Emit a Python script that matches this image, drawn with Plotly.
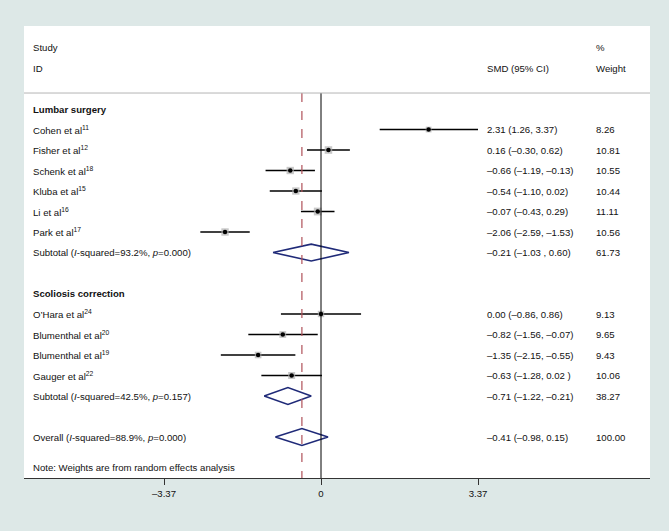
import plotly.graph_objects as go

# Forest plot: SMD by study, grouped by surgery type
studies = ["Cohen et al<sup>11</sup>", "Fisher et al<sup>12</sup>", "Schenk et al<sup>18</sup>",
           "Kluba et al<sup>15</sup>", "Li et al<sup>16</sup>", "Park et al<sup>17</sup>",
           "O’Hara et al<sup>24</sup>", "Blumenthal et al<sup>20</sup>",
           "Blumenthal et al<sup>19</sup>", "Gauger et al<sup>22</sup>"]
study_rows = [1, 2, 3, 4, 5, 6, 10, 11, 12, 13]
smd = [2.31, 0.16, -0.66, -0.54, -0.07, -2.06, 0.00, -0.82, -1.35, -0.63]
ci_low = [1.26, -0.30, -1.19, -1.10, -0.43, -2.59, -0.86, -1.56, -2.15, -1.28]
ci_high = [3.37, 0.62, -0.13, 0.02, 0.29, -1.53, 0.86, -0.07, -0.55, 0.02]
weights = [8.26, 10.81, 10.55, 10.44, 11.11, 10.56, 9.13, 9.65, 9.43, 10.06]
ci_labels = ["2.31 (1.26, 3.37)", "0.16 (–0.30, 0.62)", "–0.66 (–1.19, –0.13)",
             "–0.54 (–1.10, 0.02)", "–0.07 (–0.43, 0.29)", "–2.06 (–2.59, –1.53)",
             "0.00 (–0.86, 0.86)", "–0.82 (–1.56, –0.07)", "–1.35 (–2.15, –0.55)",
             "–0.63 (–1.28, 0.02 )"]

# pooled estimates (two subtotals + overall)
pooled_labels = ["Subtotal (<i>I</i>-squared=93.2%, <i>p</i>=0.000)",
                 "Subtotal (<i>I</i>-squared=42.5%, <i>p</i>=0.157)",
                 "Overall (<i>I</i>-squared=88.9%, <i>p</i>=0.000)"]
pooled_rows = [7, 14, 16]
pooled_smd = [-0.21, -0.71, -0.41]
pooled_low = [-1.03, -1.22, -0.98]
pooled_high = [0.60, -0.21, 0.15]
pooled_weights = [61.73, 38.27, 100.00]
pooled_ci_labels = ["–0.21 (–1.03 , 0.60)", "–0.71 (–1.22, –0.21)", "–0.41 (–0.98, 0.15)"]

groups = ["Lumbar surgery", "Scoliosis correction"]
group_rows = [0, 9]

tick_vals = [-3.37, 0, 3.37]
tick_text = ["–3.37", "0", "3.37"]

FONT = "Liberation Sans, Arial, sans-serif"
NAVY = "#1f2a78"
BG = "#dde8e7"
x_lab, x_ci, x_w = -6.22, 3.52, 5.86
y_top, y_bot, y_head = -4.05, 18.0, -0.78

fig = go.Figure()

# confidence interval lines
for lo, hi, r in zip(ci_low, ci_high, study_rows):
    fig.add_trace(go.Scatter(x=[lo, hi], y=[r, r], mode="lines",
                             line=dict(color="black", width=1.5),
                             showlegend=False, hoverinfo="skip"))

# weight boxes and point estimates
fig.add_trace(go.Scatter(x=smd, y=study_rows, mode="markers",
                         marker=dict(symbol="square", size=[w * 0.7 for w in weights],
                                     color="#b0b0b0", line=dict(width=0)),
                         showlegend=False, hoverinfo="skip"))
fig.add_trace(go.Scatter(x=smd, y=study_rows, mode="markers",
                         marker=dict(symbol="circle", size=4.5, color="black"),
                         showlegend=False, hoverinfo="skip"))

# diamonds
h = 0.41
for est, lo, hi, r in zip(pooled_smd, pooled_low, pooled_high, pooled_rows):
    fig.add_trace(go.Scatter(x=[lo, est, hi, est, lo], y=[r, r - h, r, r + h, r],
                             mode="lines", line=dict(color=NAVY, width=1.6),
                             showlegend=False, hoverinfo="skip"))

# reference lines
fig.add_shape(type="line", x0=0, x1=0, y0=y_head, y1=y_bot, xref="x", yref="y",
              line=dict(color="black", width=1))
fig.add_shape(type="line", x0=pooled_smd[2], x1=pooled_smd[2], y0=y_head, y1=y_bot,
              xref="x", yref="y", line=dict(color="#b0525a", width=1.2, dash="dash"))
fig.add_shape(type="line", x0=0, x1=1, y0=y_head, y1=y_head, xref="paper", yref="y",
              line=dict(color="#b4b4b4", width=1))

def txt(x, y, s, bold=False):
    fig.add_annotation(x=x, y=y, xref="x", yref="y", text=f"<b>{s}</b>" if bold else s,
                       showarrow=False, xanchor="left", yanchor="middle",
                       font=dict(family=FONT, size=9.6, color="#111111"))

# header
txt(x_lab, -3.02, "Study")
txt(x_lab, -2.0, "ID")
txt(x_ci, -2.0, "SMD (95% CI)")
txt(x_w, -3.02, "%")
txt(x_w, -2.0, "Weight")

for g, r in zip(groups, group_rows):
    txt(x_lab, r, g, bold=True)
for s, r, c, w in zip(studies, study_rows, ci_labels, weights):
    txt(x_lab, r, s)
    txt(x_ci, r, c)
    txt(x_w, r, f"{w:.2f}")
for s, r, c, w in zip(pooled_labels, pooled_rows, pooled_ci_labels, pooled_weights):
    txt(x_lab, r, s)
    txt(x_ci, r, c)
    txt(x_w, r, f"{w:.2f}")
txt(x_lab, 17.5, "Note: Weights are from random effects analysis")

fig.update_layout(
    width=669, height=531,
    margin=dict(l=24, r=19, t=26, b=53),
    paper_bgcolor=BG, plot_bgcolor="white",
    font=dict(family=FONT, size=9.6, color="#111111"),
    xaxis=dict(range=[-6.375, 7.062], tickvals=tick_vals, ticktext=tick_text,
               showgrid=False, zeroline=False, showline=True, linecolor="#333333",
               linewidth=1, ticks="outside", ticklen=6, tickcolor="#333333",
               tickfont=dict(family=FONT, size=9.6), fixedrange=True),
    yaxis=dict(range=[y_bot, y_top], visible=False, showgrid=False, fixedrange=True),
)

fig.write_html("out.html", config={"displayModeBar": False},
               post_script="document.body.style.margin='0';"
                           "document.body.style.background='" + BG + "';")
